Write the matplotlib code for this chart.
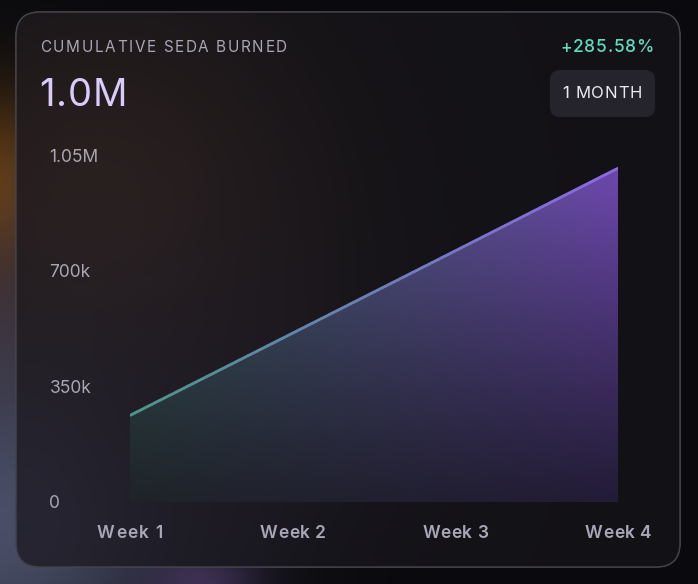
import numpy as np
import matplotlib
matplotlib.use("Agg")
import matplotlib.pyplot as plt
from matplotlib.patches import FancyBboxPatch, Polygon
from matplotlib.collections import LineCollection
from matplotlib.colors import to_rgb
from matplotlib.transforms import offset_copy

# data
weeks = ["Week 1", "Week 2", "Week 3", "Week 4"]
burned = [262000, 511000, 760000, 1010000]
y_ticks = [0, 350000, 700000, 1050000]
y_tick_labels = ["0", "350k", "700k", "1.05M"]
title = "CUMULATIVE SEDA BURNED"
headline = "1.0M"
change = "+285.58%"
period = "1 MONTH"

plt.rcParams['font.family'] = ['Inter', 'DejaVu Sans']

W, H = 698, 584
fig = plt.figure(figsize=(W / 100, H / 100), dpi=100)
renderer = fig.canvas.get_renderer()

# background layer in pixel coordinates
bg = fig.add_axes([0, 0, 1, 1])
bg.set_xlim(0, W)
bg.set_ylim(H, 0)
bg.axis("off")

yy, xx = np.mgrid[0:H, 0:W]


def blob(img, cx, cy, r, color, strength):
    w = strength * np.exp(-((xx - cx) ** 2 + (yy - cy) ** 2) / (2 * r * r))
    return img * (1 - w[..., None]) + np.array(color) * w[..., None]


def text_width(s, **kw):
    t = fig.text(0, 0, s, **kw)
    w = t.get_window_extent(renderer).width
    t.remove()
    return w


# draws text with letter spacing so it spans `width` pixels
def spaced_text(axis, x, y, s, width, ha="left", transform=None, **kw):
    n = len(s)
    bar = text_width("|", **kw)
    pre = [text_width(s[:i] + "|", **kw) - bar if i else 0.0 for i in range(n)]
    natural = text_width(s + "|", **kw) - bar
    track = (width - natural) / max(n - 1, 1)
    if transform is None:
        x0 = x - (width / 2 if ha == "center" else width if ha == "right" else 0)
        for i, ch in enumerate(s):
            axis.text(x0 + pre[i] + i * track, y, ch, ha="left", **kw)
    else:
        # x in data units of the chart axis, offsets in pixels
        for i, ch in enumerate(s):
            dx = -width / 2 + pre[i] + i * track
            tr = offset_copy(transform, fig=fig, x=dx * 72 / fig.dpi, y=0, units="points")
            axis.text(x, y, ch, ha="left", transform=tr, **kw)


outer = np.ones((H, W, 3)) * np.array([0.04, 0.04, 0.055])
outer = blob(outer, -10, 190, 70, (0.40, 0.25, 0.08), 0.95)
outer = blob(outer, -10, 330, 80, (0.30, 0.22, 0.25), 0.6)
outer = blob(outer, 0, 520, 130, (0.30, 0.32, 0.42), 0.95)
outer = blob(outer, 200, 590, 40, (0.30, 0.22, 0.40), 0.7)
bg.imshow(outer, extent=(0, W, H, 0), aspect="auto", zorder=0)

card = FancyBboxPatch((16, 12), 664, 555, boxstyle="round,pad=0,rounding_size=24",
                      facecolor="#131217", edgecolor="#45434c", linewidth=1.0, zorder=1)
bg.add_patch(card)

inner = np.ones((H, W, 3)) * np.array([0.074, 0.07, 0.088])
inner = blob(inner, 100, 200, 150, (0.19, 0.14, 0.13), 0.75)
inner = blob(inner, 20, 520, 140, (0.18, 0.18, 0.24), 0.7)
inner = blob(inner, 230, 420, 120, (0.13, 0.11, 0.16), 0.5)
im = bg.imshow(inner, extent=(0, W, H, 0), aspect="auto", zorder=1.5)
im.set_clip_path(card)
card2 = FancyBboxPatch((16, 12), 664, 555, boxstyle="round,pad=0,rounding_size=24",
                       facecolor="none", edgecolor="#45434c", linewidth=1.0, zorder=2)
bg.add_patch(card2)

# header texts
spaced_text(bg, 40, 48, title, 247, color="#aaa6b6", fontsize=11, va="center", zorder=3)
spaced_text(bg, 39, 96, headline, 88, color="#d9cbfb", fontsize=27.5, va="center", zorder=3)
spaced_text(bg, 654, 48, change, 94, ha="right", color="#5fdcc2", fontsize=12.5,
            fontweight="medium", va="center", zorder=3)
btn = FancyBboxPatch((550, 70), 105, 47, boxstyle="round,pad=0,rounding_size=10",
                     facecolor="#25232c", edgecolor="none", zorder=3)
bg.add_patch(btn)
spaced_text(bg, 602, 94, period, 80, ha="center", color="#ebe8f0", fontsize=12,
            va="center", zorder=4)

# chart axes
left, right, top, bottom = 130, 618, 155, 502
ax = fig.add_axes([left / W, (H - bottom) / H, (right - left) / W, (bottom - top) / H])
ax.patch.set_alpha(0)
x = np.arange(len(weeks))
y = np.array(burned, dtype=float)
ax.set_xlim(0, len(weeks) - 1)
ax.set_ylim(0, y_ticks[-1])
for s in ax.spines.values():
    s.set_visible(False)

# gradient fill clipped to the area under the line
ny, nx = 200, 300
gx = np.linspace(0, 1, nx)[None, :, None]
gy = np.linspace(1, 0, ny)[:, None, None]
top_l, top_r = np.array(to_rgb("#37605d")), np.array(to_rgb("#6a46a8"))
bot_l, bot_r = np.array(to_rgb("#1f2429")), np.array(to_rgb("#231c37"))
top_c = top_l * (1 - gx) + top_r * gx
bot_c = bot_l * (1 - gx) + bot_r * gx
t = np.clip(gy / 0.95, 0, 1) ** 1.1
grad = bot_c * (1 - t) + top_c * t
fill_im = ax.imshow(grad, extent=(0, len(weeks) - 1, 0, y_ticks[-1] * 0.96),
                    aspect="auto", origin="upper", zorder=1)
poly = Polygon(np.column_stack([np.r_[x, x[-1], x[0]], np.r_[y, 0, 0]]),
               closed=True, facecolor="none", edgecolor="none", transform=ax.transData)
ax.add_patch(poly)
fill_im.set_clip_path(poly)

# gradient line
xs = np.linspace(x[0], x[-1], 200)
ys = np.interp(xs, x, y)
pts = np.column_stack([xs, ys]).reshape(-1, 1, 2)
segs = np.concatenate([pts[:-1], pts[1:]], axis=1)
c0, c1 = np.array(to_rgb("#4b9688")), np.array(to_rgb("#8c68e4"))
fr = np.linspace(0, 1, len(segs))[:, None]
lc = LineCollection(segs, colors=c0 * (1 - fr) + c1 * fr, linewidth=2, zorder=2,
                    capstyle="round")
ax.add_collection(lc)

# x labels: letter-spaced, placed at the tick positions
ax.set_xticks(x)
ax.set_xticklabels([])
ax.tick_params(axis="x", length=0)
xlab_tr = ax.get_xaxis_transform()
for xi, wk in zip(x, weeks):
    spaced_text(ax, xi, -0.09, wk, 66, transform=xlab_tr, color="#a9a6b8",
                fontsize=12.5, fontweight="semibold", va="center", clip_on=False)

ax.set_yticks(y_ticks)
ax.set_yticklabels(y_tick_labels, color="#aaa6b4", fontsize=12.5)
ax.tick_params(axis="y", length=0, pad=58)
for lbl in ax.get_yticklabels():
    lbl.set_ha("left")

fig.savefig("out.png", dpi=100, facecolor="#0b0a10")
